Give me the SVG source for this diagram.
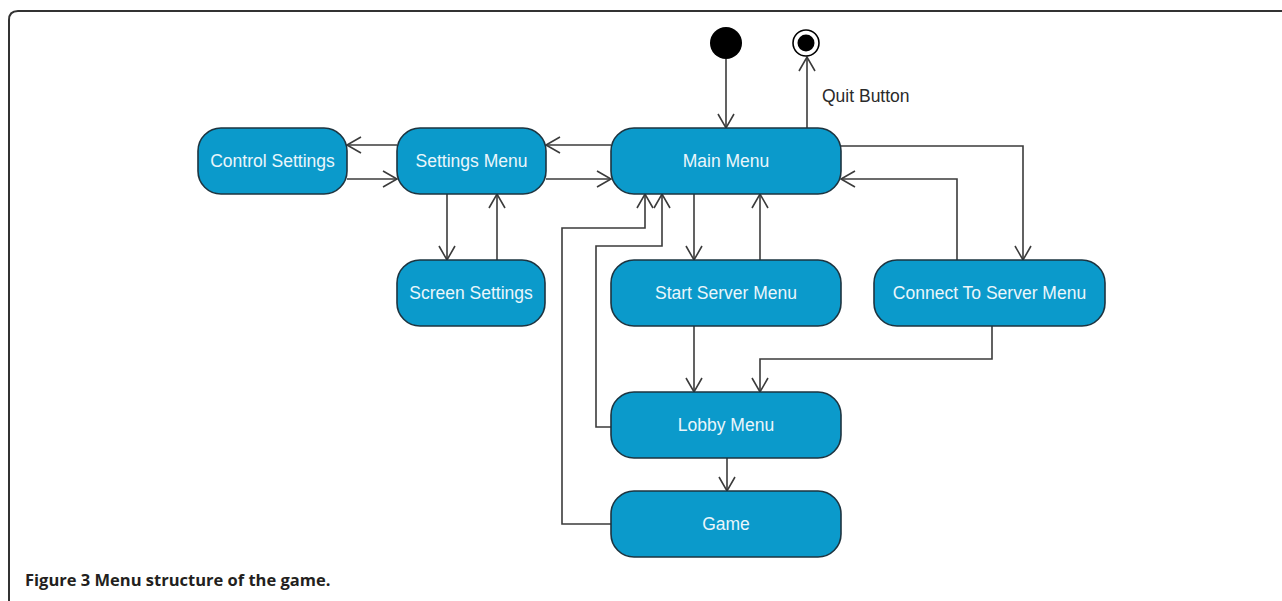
<svg xmlns="http://www.w3.org/2000/svg" width="1282" height="601" viewBox="0 0 1282 601">
  <style>
    .node rect { fill: #0b9acb; stroke: #1d3440; stroke-width: 1.6; }
    .node text { font-family: "Liberation Sans", Arial, sans-serif; font-size: 17.5px; fill: #eaf6fb; text-anchor: middle; }
    .edge { fill: none; stroke: #3b3b3b; stroke-width: 1.6; marker-end: url(#open); }
    .label { font-family: "Liberation Sans", Arial, sans-serif; font-size: 17.5px; fill: #2a2a2a; }
    .caption { font-family: "Open Sans", "Noto Sans", sans-serif; font-size: 16.5px; font-weight: bold; fill: #231f20; }
  </style>
  <defs>
    <marker id="open" markerUnits="userSpaceOnUse" markerWidth="20" markerHeight="20" viewBox="-16 -10 18 20" refX="0" refY="0" orient="auto">
      <path d="M-14,-8 L0,0 L-14,8" fill="none" stroke="#3b3b3b" stroke-width="1.6"/>
    </marker>
  </defs>

  <rect width="1282" height="601" fill="#ffffff"/>
  <!-- figure frame -->
  <path d="M9,601 V20 Q9,11 18,11 H1282" fill="none" stroke="#333333" stroke-width="2"/>

  <!-- connectors -->
  <g id="connectors">
    <path class="edge" d="M726,59 V128"/>
    <path class="edge" d="M807,128 V57"/>
    <path class="edge" d="M611,145 H546"/>
    <path class="edge" d="M546,179 H611"/>
    <path class="edge" d="M397,145 H347"/>
    <path class="edge" d="M347,179 H397"/>
    <path class="edge" d="M447,194 V260"/>
    <path class="edge" d="M497,260 V194"/>
    <path class="edge" d="M694,194 V260"/>
    <path class="edge" d="M760,260 V194"/>
    <path class="edge" d="M841,146 H1023 V260"/>
    <path class="edge" d="M957,260 V179 H841"/>
    <path class="edge" d="M694,326 V392"/>
    <path class="edge" d="M992,326 V359 H760 V392"/>
    <path class="edge" d="M611,427 H596 V246 H662 V194"/>
    <path class="edge" d="M611,524 H562 V228 H645 V194"/>
    <path class="edge" d="M727,458 V491"/>
  </g>
  <text class="label" x="822" y="102">Quit Button</text>

  <!-- initial and final states -->
  <g id="initial">
    <circle cx="726" cy="43" r="16" fill="#000000"/>
  </g>
  <g id="final">
    <circle cx="806" cy="43" r="13" fill="#ffffff" stroke="#000000" stroke-width="1.6"/>
    <circle cx="806" cy="43" r="8.5" fill="#000000"/>
  </g>

  <!-- states -->
  <g id="control-settings" class="node">
    <rect x="198" y="128" width="149" height="66" rx="23"/>
    <text x="272.5" y="167">Control Settings</text>
  </g>
  <g id="settings-menu" class="node">
    <rect x="397" y="128" width="149" height="66" rx="23"/>
    <text x="471.5" y="167">Settings Menu</text>
  </g>
  <g id="screen-settings" class="node">
    <rect x="397" y="260" width="148" height="66" rx="23"/>
    <text x="471" y="299">Screen Settings</text>
  </g>
  <g id="main-menu" class="node">
    <rect x="611" y="128" width="230" height="66" rx="23"/>
    <text x="726" y="167">Main Menu</text>
  </g>
  <g id="start-server-menu" class="node">
    <rect x="611" y="260" width="230" height="66" rx="23"/>
    <text x="726" y="299">Start Server Menu</text>
  </g>
  <g id="connect-to-server-menu" class="node">
    <rect x="874" y="260" width="231" height="66" rx="23"/>
    <text x="989.5" y="299">Connect To Server Menu</text>
  </g>
  <g id="lobby-menu" class="node">
    <rect x="611" y="392" width="230" height="66" rx="23"/>
    <text x="726" y="431">Lobby Menu</text>
  </g>
  <g id="game" class="node">
    <rect x="611" y="491" width="230" height="66" rx="23"/>
    <text x="726" y="530">Game</text>
  </g>

  <text class="caption" x="25" y="586">Figure 3 Menu structure of the game.</text>
</svg>
